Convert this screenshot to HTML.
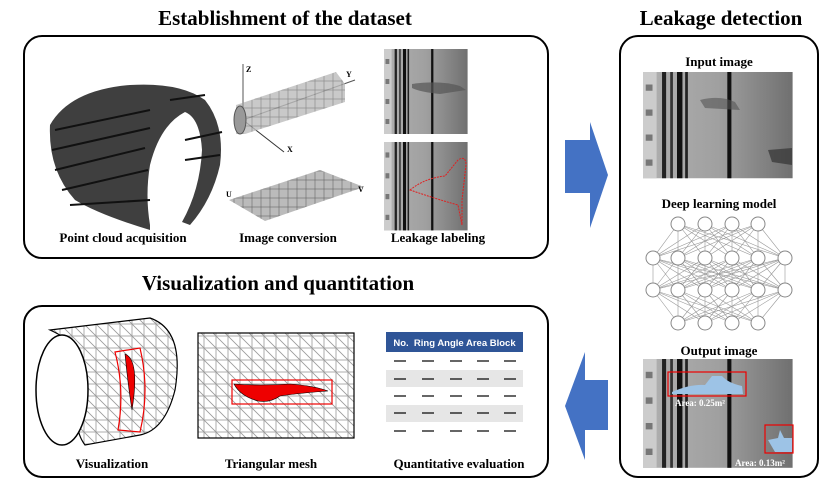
<!DOCTYPE html>
<html><head><meta charset="utf-8">
<style>
html,body{margin:0;padding:0;background:#fff;}
svg{display:block;}
text{font-family:"Liberation Serif",serif;font-weight:bold;fill:#000;}
</style></head>
<body>
<svg width="826" height="486" viewBox="0 0 826 486" xmlns="http://www.w3.org/2000/svg">
<defs>
  <linearGradient id="img" x1="0" x2="1">
    <stop offset="0" stop-color="#b0b0b0"/><stop offset="0.5" stop-color="#a0a0a0"/><stop offset="1" stop-color="#707070"/>
  </linearGradient>
  <pattern id="tri" width="12" height="12" patternUnits="userSpaceOnUse">
    <rect width="12" height="12" fill="#fff" stroke="#999" stroke-width="0.8"/>
    <line x1="0" y1="0" x2="12" y2="12" stroke="#999" stroke-width="0.8"/>
  </pattern>
  <pattern id="grid" width="9" height="9" patternUnits="userSpaceOnUse">
    <rect width="9" height="9" fill="#bbb" stroke="#666" stroke-width="0.6"/>
  </pattern>
  <g id="tunnelimg">
    <rect x="0" y="0" width="110" height="85" fill="url(#img)"/>
    <rect x="0" y="0" width="10" height="85" fill="#ccc"/>
    <rect x="14" y="0" width="3" height="85" fill="#222"/>
    <rect x="20" y="0" width="2" height="85" fill="#333"/>
    <rect x="25" y="0" width="4" height="85" fill="#111"/>
    <rect x="31" y="0" width="2" height="85" fill="#222"/>
    <rect x="62" y="0" width="3" height="85" fill="#111"/>
    <rect x="2" y="10" width="5" height="5" fill="#777"/><rect x="2" y="30" width="5" height="5" fill="#777"/>
    <rect x="2" y="50" width="5" height="5" fill="#777"/><rect x="2" y="70" width="5" height="5" fill="#777"/>
  </g>
</defs>

<text x="285" y="25" font-size="21" text-anchor="middle">Establishment of the dataset</text>
<text x="721" y="25" font-size="21" text-anchor="middle">Leakage detection</text>
<text x="278" y="290" font-size="21" text-anchor="middle">Visualization and quantitation</text>

<rect x="24" y="36" width="524" height="222" rx="18" fill="none" stroke="#000" stroke-width="2"/>
<rect x="24" y="306" width="524" height="171" rx="18" fill="none" stroke="#000" stroke-width="2"/>
<rect x="620" y="36" width="198" height="441" rx="18" fill="none" stroke="#000" stroke-width="2"/>

<g>
  <path d="M50 125 Q70 90 130 85 Q180 82 205 100 Q225 125 220 165 Q212 200 190 225 L182 222 Q200 190 202 150 Q200 118 185 112 Q160 125 150 165 Q145 195 150 225 L150 230 Q100 215 75 200 Q48 170 50 125Z" fill="#3f3f3f"/>
  <path d="M55 130 L150 110 M52 150 L150 128 M55 170 L145 148 M62 190 L148 170 M70 205 L150 200" stroke="#111" stroke-width="2"/>
  <path d="M170 100 L205 95 M185 140 L222 132 M185 160 L220 155" stroke="#111" stroke-width="2"/>
</g>

<g>
  <line x1="243" y1="120" x2="243" y2="64" stroke="#555"/><text x="246" y="72" font-size="8" font-weight="normal">Z</text>
  <line x1="243" y1="120" x2="284" y2="152" stroke="#333"/><text x="287" y="152" font-size="8" font-weight="normal">X</text>
  <line x1="243" y1="120" x2="355" y2="80" stroke="#555"/><text x="346" y="77" font-size="8" font-weight="normal">Y</text>
  <polygon points="236,105 336,72 345,84 345,102 245,134 236,134" fill="url(#grid)" opacity="0.8"/>
  <ellipse cx="240" cy="120" rx="6" ry="14" fill="#999" stroke="#555"/>
  <polygon points="229,200 320,170 364,187 265,221" fill="url(#grid)"/>
  <text x="226" y="197" font-size="8" font-weight="normal">U</text>
  <text x="358" y="192" font-size="8" font-weight="normal">V</text>
</g>

<g>
  <use href="#tunnelimg" transform="translate(384,49) scale(0.76,1)"/>
  <path d="M412 84 Q440 80 460 86 L466 90 L440 94 Q420 92 412 88Z" fill="#555" opacity="0.7"/>
</g>
<g>
  <use href="#tunnelimg" transform="translate(384,142) scale(0.76,1.04)"/>
  <path d="M410 190 Q425 178 445 176 L458 160 Q466 155 466 165 L462 200 L462 225 L458 205 Q440 200 425 195Z" fill="none" stroke="#e02020" stroke-width="1" stroke-dasharray="2,1"/>
</g>

<text x="123" y="242" font-size="13" text-anchor="middle">Point cloud acquisition</text>
<text x="288" y="242" font-size="13" text-anchor="middle">Image conversion</text>
<text x="438" y="242" font-size="13" text-anchor="middle">Leakage labeling</text>

<polygon points="565,140 590,140 590,122 608,175 590,228 590,193 565,193" fill="#4472c4"/>
<polygon points="608,380 585,380 585,352 565,406 585,460 585,430 608,430" fill="#4472c4"/>

<text x="719" y="66" font-size="13" text-anchor="middle">Input image</text>
<g>
  <use href="#tunnelimg" transform="translate(643,72) scale(1.36,1.25)"/>
  <path d="M700 100 Q720 95 735 102 L740 110 L705 108Z" fill="#555" opacity="0.6"/>
  <path d="M768 150 L792 148 L792 165 L772 162Z" fill="#333" opacity="0.7"/>
</g>
<text x="719" y="208" font-size="13" text-anchor="middle">Deep learning model</text>
<g id="net" stroke="#999" stroke-width="0.6"></g>
<text x="719" y="355" font-size="13" text-anchor="middle">Output image</text>
<g>
  <use href="#tunnelimg" transform="translate(643,359) scale(1.36,1.28)"/>
  <rect x="668" y="372" width="78" height="24" fill="none" stroke="#e00" stroke-width="1.2"/>
  <path d="M672 392 Q690 384 705 385 L712 376 L722 376 Q728 383 742 386 L743 394 L672 394Z" fill="#9dc3e6"/>
  <text x="700" y="406" font-size="9" font-weight="normal" style="fill:#fff" text-anchor="middle">Area: 0.25m²</text>
  <rect x="765" y="425" width="28" height="28" fill="none" stroke="#e00" stroke-width="1.2"/>
  <path d="M768 440 L778 438 L780 430 L784 438 L792 438 L792 452 L775 452Z" fill="#9dc3e6"/>
  <text x="760" y="466" font-size="9" font-weight="normal" style="fill:#fff" text-anchor="middle">Area: 0.13m²</text>
</g>

<g>
  <path d="M50 330 L150 318 Q185 330 175 390 Q165 430 140 435 L85 445 Q70 425 85 395 Q95 350 50 330Z" fill="url(#tri)" stroke="#000" stroke-width="1.2"/>
  <ellipse cx="62" cy="390" rx="26" ry="55" fill="#fff" stroke="#000" stroke-width="1.5"/>
  <path d="M115 352 L140 348 Q150 390 140 432 L118 430 Q125 390 115 352Z" fill="none" stroke="#e00" stroke-width="1.2"/>
  <path d="M125 354 Q140 360 132 410 Q128 385 125 354Z" fill="#e00" stroke="#000" stroke-width="0.6"/>
</g>

<g>
  <rect x="198" y="333" width="156" height="105" fill="url(#tri)" stroke="#000" stroke-width="1.2"/>
  <rect x="232" y="380" width="100" height="24" fill="none" stroke="#e00" stroke-width="1.2"/>
  <path d="M234 384 Q260 386 290 384 Q315 386 328 391 Q300 393 280 396 Q270 403 258 401 Q240 396 234 384Z" fill="#e00" stroke="#000" stroke-width="0.6"/>
</g>

<g>
  <rect x="386" y="332" width="137" height="20" fill="#2f5597"/>
  <text x="454.5" y="346" font-size="9.5" font-weight="normal" text-anchor="middle" style="fill:#fff;font-family:'Liberation Sans',sans-serif">No.&#160; Ring Angle Area Block</text>
  <rect x="386" y="370" width="137" height="17" fill="#e6e6e6"/>
  <rect x="386" y="405" width="137" height="17" fill="#e6e6e6"/>
  <g id="dashes" stroke="#000" stroke-width="1.2"></g>
</g>

<text x="112" y="468" font-size="13" text-anchor="middle">Visualization</text>
<text x="271" y="468" font-size="13" text-anchor="middle">Triangular mesh</text>
<text x="459" y="468" font-size="13" text-anchor="middle">Quantitative evaluation</text>
</svg>
<script>
const layerRows=[224,258,290,323];
const layerCols=[[678,705,732,758],[653,678,705,732,758,785],[653,678,705,732,758,785],[678,705,732,758]];
const dashRowsY=[361,379,396,413,431];
const dashColsX=[400,428,456,483,510];
const NS="http://www.w3.org/2000/svg";
const net=document.getElementById('net');
for(let i=0;i<layerRows.length-1;i++){
  for(const a of layerCols[i]) for(const b of layerCols[i+1]){
    const l=document.createElementNS(NS,'line');
    l.setAttribute('x1',a);l.setAttribute('y1',layerRows[i]);l.setAttribute('x2',b);l.setAttribute('y2',layerRows[i+1]);
    
    
    net.appendChild(l);
  }
}
layerRows.forEach((y,i)=>layerCols[i].forEach(x=>{
  const c=document.createElementNS(NS,'circle');
  c.setAttribute('cx',x);c.setAttribute('cy',y);c.setAttribute('r',7);
  c.setAttribute('fill','#fff');c.setAttribute('stroke','#888');c.setAttribute('stroke-width','1');
  
  
  net.appendChild(c);
}));
const dashes=document.getElementById('dashes');
dashRowsY.forEach(y=>dashColsX.forEach(x=>{
  const l=document.createElementNS(NS,'line');
  l.setAttribute('x1',x-6);l.setAttribute('x2',x+6);l.setAttribute('y1',y);l.setAttribute('y2',y);
  
  
  dashes.appendChild(l);
}));
</script>
</body></html>
